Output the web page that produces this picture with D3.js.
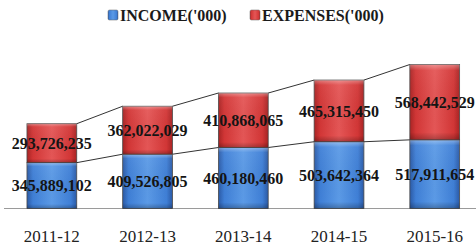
<!DOCTYPE html>
<html>
<head>
<meta charset="utf-8">
<script src="https://cdn.jsdelivr.net/npm/d3@7"></script>
<style>
body{margin:0;background:#fff;}
svg{display:block;}
text{font-family:"Liberation Serif","DejaVu Serif",serif;}
</style>
</head>
<body>
<svg id="chart"></svg>
<script>
var years=["2011-12","2012-13","2013-14","2014-15","2015-16"];
var income=[345889102,409526805,460180460,503642364,517911654];
var expenses=[293726235,362022029,410868065,465315450,568442529];
var seriesNames=["INCOME('000)","EXPENSES('000)"];

var w=476;
var h=245;
var base=208.5;
var serif="'Liberation Serif','DejaVu Serif',serif";

var svg=d3.select("#chart")
          .attr("width",w)
          .attr("height",h);

var data=years.map(function(y,i){
  return {year:y,income:income[i],expenses:expenses[i]};
});
var stack=d3.stack().keys(["income","expenses"])(data);

var xScale=d3.scaleBand()
             .domain(years)
             .range([4,482.6])
             .paddingInner(0.48)
             .paddingOuter(0.24);
var yScale=d3.scaleLinear()
             .domain([0,1086368983])
             .range([base,64.5]);

// gradients for the bevelled bars
var defs=svg.append("defs");
var cols=[
  {id:"gIncome",dark:"#2b5aa6",mid:"#3f7fd6",light:"#5b9ae6"},
  {id:"gExpenses",dark:"#a82424",mid:"#d23636",light:"#e45656"}
];
cols.forEach(function(c){
  var g=defs.append("linearGradient").attr("id",c.id)
            .attr("x1","0").attr("x2","1").attr("y1","0").attr("y2","0");
  g.append("stop").attr("offset","0%").attr("stop-color",c.dark);
  g.append("stop").attr("offset","12%").attr("stop-color",c.mid);
  g.append("stop").attr("offset","50%").attr("stop-color",c.light);
  g.append("stop").attr("offset","88%").attr("stop-color",c.mid);
  g.append("stop").attr("offset","100%").attr("stop-color",c.dark);
});
var vg=defs.append("linearGradient").attr("id","gShade")
           .attr("x1","0").attr("x2","0").attr("y1","0").attr("y2","1");
vg.append("stop").attr("offset","0%").attr("stop-color","#fff").attr("stop-opacity",0.35);
vg.append("stop").attr("offset","8%").attr("stop-color","#fff").attr("stop-opacity",0.05);
vg.append("stop").attr("offset","90%").attr("stop-color","#000").attr("stop-opacity",0);
vg.append("stop").attr("offset","100%").attr("stop-color","#000").attr("stop-opacity",0.25);

// axis line
svg.append("line")
   .attr("x1",4).attr("x2",w)
   .attr("y1",base).attr("y2",base)
   .attr("stroke","#9a9a9a").attr("stroke-width",1);

// series lines between bars
stack.forEach(function(layer){
  for(var i=0;i<layer.length-1;i++){
    svg.append("line")
       .attr("x1",xScale(years[i])+xScale.bandwidth())
       .attr("y1",yScale(layer[i][1]))
       .attr("x2",xScale(years[i+1]))
       .attr("y2",yScale(layer[i+1][1]))
       .attr("stroke","#333").attr("stroke-width",1);
  }
});

var groups=svg.selectAll("g.layer")
              .data(stack)
              .enter()
              .append("g")
              .attr("class","layer");

groups.selectAll("rect.bar")
      .data(function(d){return d;})
      .enter()
      .append("rect")
      .attr("class","bar")
      .attr("x",function(d){return xScale(d.data.year);})
      .attr("y",function(d){return yScale(d[1]);})
      .attr("width",xScale.bandwidth())
      .attr("height",function(d){return yScale(d[0])-yScale(d[1]);})
      .attr("fill",function(d,i,n){
        return d3.select(n[i].parentNode).datum().key=="income"?"url(#gIncome)":"url(#gExpenses)";
      })
      .attr("stroke","#4a4a4a")
      .attr("stroke-width",0.8);

groups.selectAll("rect.shade")
      .data(function(d){return d;})
      .enter()
      .append("rect")
      .attr("class","shade")
      .attr("x",function(d){return xScale(d.data.year);})
      .attr("y",function(d){return yScale(d[1]);})
      .attr("width",xScale.bandwidth())
      .attr("height",function(d){return yScale(d[0])-yScale(d[1]);})
      .attr("fill","url(#gShade)");

groups.selectAll("text")
      .data(function(d){return d;})
      .enter()
      .append("text")
      .attr("x",function(d){return xScale(d.data.year)+xScale.bandwidth()/2;})
      .attr("y",function(d){return (yScale(d[0])+yScale(d[1]))/2;})
      .attr("dy","0.35em")
      .attr("text-anchor","middle")
      .attr("font-family",serif)
      .attr("font-size","16px")
      .attr("font-weight","bold")
      .attr("fill","#141414")
      .text(function(d){return d3.format(",")(d[1]-d[0]);});

// category labels
svg.selectAll("text.cat")
   .data(years)
   .enter()
   .append("text")
   .attr("class","cat")
   .attr("x",function(d){return xScale(d)+xScale.bandwidth()/2;})
   .attr("y",236)
   .attr("dy","0.35em")
   .attr("text-anchor","middle")
   .attr("font-family",serif)
   .attr("font-size","17px")
   .attr("fill","#222")
   .text(function(d){return d;});

// legend
var legX=[108,250];
var legFill=["url(#gIncome)","url(#gExpenses)"];
seriesNames.forEach(function(name,i){
  svg.append("rect")
     .attr("x",legX[i]).attr("y",10)
     .attr("width",10).attr("height",10)
     .attr("rx",1.5)
     .attr("fill",legFill[i])
     .attr("stroke","#666").attr("stroke-width",0.5);
  svg.append("text")
     .attr("x",legX[i]+12).attr("y",15)
     .attr("dy","0.35em")
     .attr("font-family",serif)
     .attr("font-size","16px")
     .attr("font-weight","bold")
     .attr("fill","#1a1a1a")
     .text(name);
});
</script>
</body>
</html>
